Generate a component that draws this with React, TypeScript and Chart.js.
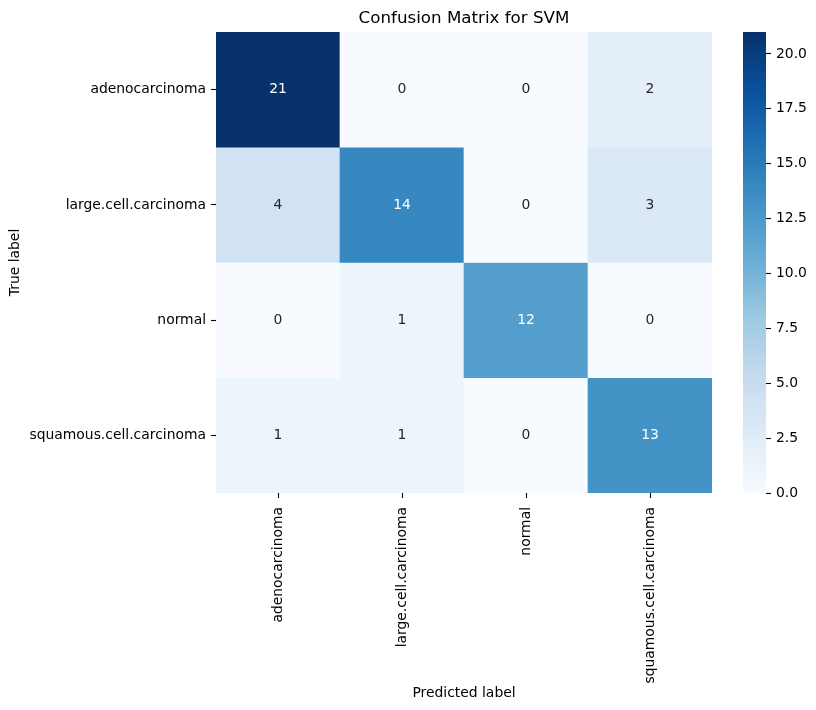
import React, { useEffect, useRef } from 'react';
import { Chart, registerables } from 'chart.js';

Chart.register(...registerables);

const classes = ['adenocarcinoma', 'large.cell.carcinoma', 'normal', 'squamous.cell.carcinoma'];
const rowAdeno = [21, 0, 0, 2];
const rowLarge = [4, 14, 0, 3];
const rowNormal = [0, 1, 12, 0];
const rowSquamous = [1, 1, 0, 13];
const matrix = [rowAdeno, rowLarge, rowNormal, rowSquamous];
const vmin = 0;
const vmax = 21;
const colorbarTicks = [0, 2.5, 5, 7.5, 10, 12.5, 15, 17.5, 20];
const BLUES = ['#f7fbff', '#deebf7', '#c6dbef', '#9ecae1', '#6baed6', '#4292c6', '#2171b5', '#08519c', '#08306b'];

const FONT = "'DejaVu Sans', sans-serif";

function hexToRgb(h: string): number[] {
  const n = parseInt(h.slice(1), 16);
  return [(n >> 16) & 255, (n >> 8) & 255, n & 255];
}

function bluesRgb(v: number): number[] {
  let t = (v - vmin) / (vmax - vmin);
  t = Math.max(0, Math.min(1, t));
  const pos = t * (BLUES.length - 1);
  const i = Math.min(Math.floor(pos), BLUES.length - 2);
  const f = pos - i;
  const a = hexToRgb(BLUES[i]);
  const b = hexToRgb(BLUES[i + 1]);
  return [0, 1, 2].map((k) => Math.round(a[k] + (b[k] - a[k]) * f));
}

function rgbStr(c: number[]): string {
  return `rgb(${c[0]},${c[1]},${c[2]})`;
}

function luminance(c: number[]): number {
  const lin = c.map((x) => {
    const s = x / 255;
    return s <= 0.03928 ? s / 12.92 : Math.pow((s + 0.055) / 1.055, 2.4);
  });
  return 0.2126 * lin[0] + 0.7152 * lin[1] + 0.0722 * lin[2];
}

const annotatePlugin = {
  id: 'cellText',
  afterDatasetsDraw(chart: any) {
    const ctx = chart.ctx;
    ctx.save();
    ctx.font = `13.9px ${FONT}`;
    ctx.textAlign = 'center';
    ctx.textBaseline = 'middle';
    chart.data.datasets.forEach((_ds: any, i: number) => {
      const meta = chart.getDatasetMeta(i);
      meta.data.forEach((bar: any, j: number) => {
        const v = matrix[i][j];
        const c = bluesRgb(v);
        ctx.fillStyle = luminance(c) > 0.408 ? '#262626' : '#ffffff';
        const p = bar.getCenterPoint();
        ctx.fillText(String(v), p.x, p.y);
      });
    });
    ctx.restore();
  },
};

export default function App() {
  const mainRef = useRef<HTMLCanvasElement>(null);
  const cbRef = useRef<HTMLCanvasElement>(null);

  useEffect(() => {
    const datasets = matrix.map((row, i) => ({
      label: classes[i],
      data: row.map(() => [i, i + 1] as [number, number]),
      backgroundColor: row.map((v) => rgbStr(bluesRgb(v))),
      borderWidth: 0,
      barPercentage: 1,
      categoryPercentage: 1,
      grouped: false,
    }));

    const main = new Chart(mainRef.current!, {
      type: 'bar',
      data: { labels: classes, datasets },
      plugins: [annotatePlugin],
      options: {
        animation: false,
        responsive: false,
        layout: { padding: { left: 0, right: 104, top: 0, bottom: 0 } },
        plugins: {
          legend: { display: false },
          tooltip: { enabled: false },
          title: {
            display: true,
            text: 'Confusion Matrix for SVM',
            fullSize: false,
            color: '#000',
            font: { family: FONT, size: 16.7, weight: 'normal' },
            padding: { top: 9, bottom: 3 },
          },
        },
        scales: {
          x: {
            type: 'category',
            offset: true,
            border: { display: false },
            grid: {
              display: true,
              offset: false,
              drawOnChartArea: false,
              drawTicks: true,
              tickLength: 5,
              tickWidth: 1.1,
              tickColor: '#000',
            },
            ticks: {
              color: '#000',
              font: { family: FONT, size: 13.9 },
              minRotation: 90,
              maxRotation: 90,
              autoSkip: false,
              padding: 9,
            },
            title: {
              display: true,
              text: 'Predicted label',
              color: '#000',
              font: { family: FONT, size: 13.9 },
              padding: { top: 0, bottom: 8 },
            },
            afterFit: (scale: any) => {
              scale.height = 217;
            },
          },
          y: {
            type: 'linear',
            min: 0,
            max: classes.length,
            reverse: true,
            border: { display: false },
            grid: {
              display: true,
              drawOnChartArea: false,
              drawTicks: true,
              tickLength: 5,
              tickWidth: 1.1,
              tickColor: '#000',
            },
            afterBuildTicks: (scale: any) => {
              scale.ticks = classes.map((_c, i) => ({ value: i + 0.5 }));
            },
            ticks: {
              color: '#000',
              font: { family: FONT, size: 13.9 },
              padding: 5,
              autoSkip: false,
              callback: (_v: any, idx: number) => classes[idx],
            },
            title: {
              display: true,
              text: 'True label',
              color: '#000',
              font: { family: FONT, size: 13.9 },
              padding: { top: 7, bottom: 0 },
            },
            afterFit: (scale: any) => {
              scale.width = 216;
            },
          },
        },
      },
    } as any);

    const cb = new Chart(cbRef.current!, {
      type: 'bar',
      data: {
        labels: ['colorbar'],
        datasets: [
          {
            data: [[vmin, vmax] as [number, number]],
            borderWidth: 0,
            barPercentage: 1,
            categoryPercentage: 1,
            backgroundColor: (context: any) => {
              const chart = context.chart;
              const area = chart.chartArea;
              if (!area) return BLUES[4];
              const g = chart.ctx.createLinearGradient(0, area.bottom, 0, area.top);
              BLUES.forEach((c, k) => g.addColorStop(k / (BLUES.length - 1), c));
              return g;
            },
          },
        ],
      },
      options: {
        animation: false,
        responsive: false,
        layout: { padding: { left: 0, right: 0, top: 32, bottom: 217 } },
        plugins: { legend: { display: false }, tooltip: { enabled: false }, title: { display: false } },
        scales: {
          x: { display: false },
          y: {
            type: 'linear',
            position: 'right',
            min: vmin,
            max: vmax,
            border: { display: false },
            grid: {
              display: true,
              drawOnChartArea: false,
              drawTicks: true,
              tickLength: 5,
              tickWidth: 1.1,
              tickColor: '#000',
            },
            afterBuildTicks: (scale: any) => {
              scale.ticks = colorbarTicks.map((v) => ({ value: v }));
            },
            ticks: {
              color: '#000',
              font: { family: FONT, size: 13.9 },
              padding: 5,
              autoSkip: false,
              callback: (v: any) => Number(v).toFixed(1),
            },
            afterFit: (scale: any) => {
              scale.width = 50;
            },
          },
        },
      },
    } as any);

    return () => {
      main.destroy();
      cb.destroy();
    };
  }, []);

  return (
    <div style={{ position: 'absolute', left: 0, top: 0, width: 816, height: 710, background: '#fff' }}>
      <canvas ref={mainRef} width={816} height={710} style={{ position: 'absolute', left: 0, top: 0 }} />
      <canvas ref={cbRef} width={73} height={710} style={{ position: 'absolute', left: 743, top: 0 }} />
    </div>
  );
}
